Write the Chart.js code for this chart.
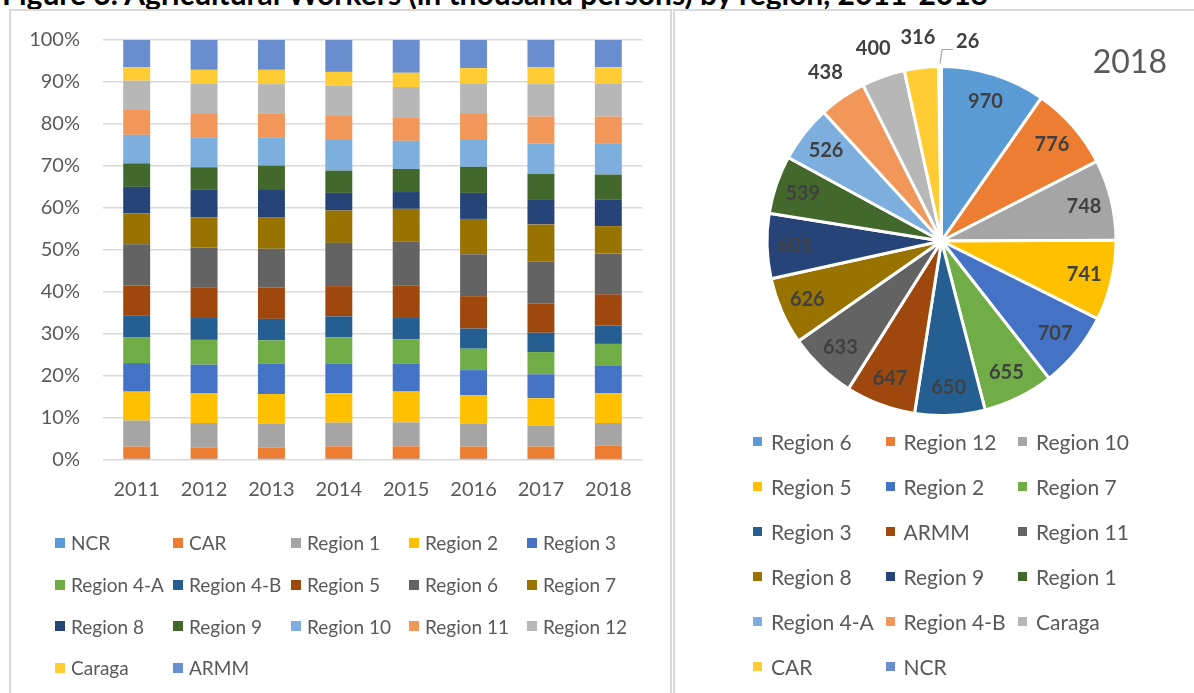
<!DOCTYPE html>
<html>
<head>
<meta charset="utf-8">
<script src="https://cdn.jsdelivr.net/npm/chart.js@4.4.0/dist/chart.umd.min.js"></script>
<style>
  body { margin: 0; width: 1194px; height: 693px; overflow: hidden; background: #fff; position: relative; font-family: Lato, sans-serif; }
  .figure-title { position: absolute; left: 2px; top: -25px; font: bold 30px/1.2 Lato, sans-serif; color: #000; white-space: nowrap; }
  .panel { position: absolute; top: 9px; border: 2px solid #d9d9d9; box-sizing: border-box; background: #fff; }
  #barPanel { left: 9px; width: 663px; height: 720px; }
  #piePanel { left: 673px; width: 600px; height: 720px; }
  canvas { position: absolute; }
  #barChart { left: 10px; top: 5px; }
  #pieChart { left: 674px; top: 10px; }
  .legend { position: absolute; display: grid; color: #595959; }
  .legend .item { display: flex; align-items: center; white-space: nowrap; }
  .legend .box { display: inline-block; flex: none; }
  #barLegend { left: 55px; top: 522px; grid-template-columns: repeat(5, 118px); grid-auto-rows: 41.7px; font-size: 19px; }
  #barLegend .box { width: 10px; height: 10px; margin-right: 6px; }
  #pieLegend { left: 753px; top: 419px; grid-template-columns: repeat(3, 132.5px); grid-auto-rows: 45px; font-size: 21px; }
  #pieLegend .box { width: 9px; height: 9px; margin-right: 9px; }
  .pie-title { position: absolute; left: 1060px; width: 107px; top: 42px; text-align: right; font: 32px/1.2 Lato, sans-serif; color: #595959; }
</style>
</head>
<body>
<div class="figure-title">Figure 3. Agricultural Workers (in thousand persons) by region, 2011-2018</div>
<div class="panel" id="barPanel"></div>
<div class="panel" id="piePanel"></div>
<canvas id="barChart" width="660" height="688"></canvas>
<canvas id="pieChart" width="520" height="683"></canvas>
<div class="legend" id="barLegend"></div>
<div class="legend" id="pieLegend"></div>
<div class="pie-title">2018</div>

<script>
const years = ["2011", "2012", "2013", "2014", "2015", "2016", "2017", "2018"];
const regions = ["NCR", "CAR", "Region 1", "Region 2", "Region 3", "Region 4-A", "Region 4-B", "Region 5",
  "Region 6", "Region 7", "Region 8", "Region 9", "Region 10", "Region 11", "Region 12", "Caraga", "ARMM"];

// share of agricultural workers per region (%), same order as regions
const share2011 = [0.3, 2.9, 6.2, 6.9, 6.8, 6.2, 5.2, 7.0, 9.9, 7.4, 6.3, 5.6, 6.8, 6.1, 6.8, 3.2, 6.5];
const share2012 = [0.3, 2.7, 5.8, 7.05, 6.85, 5.9, 5.2, 7.3, 9.5, 7.2, 6.5, 5.4, 7.0, 5.9, 7.1, 3.2, 7.1];
const share2013 = [0.3, 2.7, 5.6, 7.1, 7.2, 5.6, 5.1, 7.4, 9.3, 7.4, 6.8, 5.6, 6.6, 5.7, 7.1, 3.4, 7.1];
const share2014 = [0.3, 2.95, 5.65, 7.0, 7.1, 6.2, 5.0, 7.2, 10.3, 7.7, 4.2, 5.3, 7.3, 5.9, 7.0, 3.3, 7.6];
const share2015 = [0.3, 2.95, 5.7, 7.35, 6.7, 5.7, 5.1, 7.7, 10.5, 7.8, 4.0, 5.5, 6.7, 5.6, 7.2, 3.4, 7.8];
const share2016 = [0.3, 2.9, 5.4, 6.8, 6.0, 5.1, 4.8, 7.7, 10.0, 8.4, 6.2, 6.2, 6.6, 6.2, 7.1, 3.6, 6.7];
const share2017 = [0.3, 2.9, 5.0, 6.5, 5.7, 5.3, 4.6, 6.9, 10.0, 8.9, 6.0, 6.0, 7.2, 6.5, 7.7, 4.0, 6.5];

// 2018 workers in thousand persons, largest first (pie order)
const pieLabels = ["Region 6", "Region 12", "Region 10", "Region 5", "Region 2", "Region 7", "Region 3", "ARMM",
  "Region 11", "Region 8", "Region 9", "Region 1", "Region 4-A", "Region 4-B", "Caraga", "CAR", "NCR"];
const pieValues = [970, 776, 748, 741, 707, 655, 650, 647, 633, 626, 601, 539, 526, 438, 400, 316, 26];

const yTicks = [0, 10, 20, 30, 40, 50, 60, 70, 80, 90, 100];

const palette = ["#5B9BD5", "#ED7D31", "#A5A5A5", "#FFC000", "#4472C4", "#70AD47", "#255E91", "#9E480E",
  "#636363", "#997300", "#264478", "#43682B", "#7CAFDD", "#F1975A", "#B7B7B7", "#FFCD33", "#698ED0"];

const textColor = "#595959";

// 2018 column comes straight from the pie counts
const share2018 = regions.map(r => pieValues[pieLabels.indexOf(r)]);
const yearRows = [share2011, share2012, share2013, share2014, share2015, share2016, share2017, share2018];

// normalise each year to 100%
const percentRows = yearRows.map(row => {
  const total = row.reduce((a, b) => a + b, 0);
  return row.map(v => v / total * 100);
});

const barDatasets = regions.map((name, i) => ({
  label: name,
  data: percentRows.map(row => row[i]),
  backgroundColor: palette[i],
  borderWidth: 0,
  barPercentage: 0.4,
  categoryPercentage: 1.0
}));

const barChart = new Chart(document.getElementById("barChart"), {
  type: "bar",
  data: { labels: years, datasets: barDatasets },
  options: {
    responsive: false,
    animation: false,
    layout: { padding: { top: 30, right: 28, left: 0, bottom: 0 } },
    plugins: { legend: { display: false }, tooltip: { enabled: false } },
    scales: {
      x: {
        stacked: true,
        grid: { display: false, drawTicks: false },
        border: { display: false },
        ticks: { color: textColor, font: { family: "Lato", size: 20 }, padding: 18 },
        afterFit: s => { s.height = 233; }
      },
      y: {
        stacked: true,
        min: 0,
        max: 100,
        afterBuildTicks: s => { s.ticks = yTicks.map(v => ({ value: v })); },
        grid: { color: "#d9d9d9", lineWidth: 1.5, drawTicks: false },
        border: { display: false },
        ticks: { color: textColor, font: { family: "Lato", size: 20 }, padding: 23, callback: v => v + "%" },
        afterFit: s => { s.width = 93; }
      }
    }
  }
});

// value labels on the pie: inside for big slices, outside for small ones
const sliceLabels = {
  id: "sliceLabels",
  afterDatasetsDraw(chart) {
    const ctx = chart.ctx;
    const arcs = chart.getDatasetMeta(0).data;
    const values = chart.data.datasets[0].data;
    ctx.save();
    ctx.font = "bold 20px Lato";
    ctx.fillStyle = "#404040";
    ctx.textBaseline = "middle";
    arcs.forEach((arc, i) => {
      const { x, y, startAngle, endAngle, outerRadius } = arc.getProps(["x", "y", "startAngle", "endAngle", "outerRadius"], true);
      const mid = (startAngle + endAngle) / 2;
      const v = values[i];
      if (v >= 500) {
        const r = outerRadius * 0.84;
        ctx.textAlign = "center";
        ctx.fillText(v, x + Math.cos(mid) * r, y + Math.sin(mid) * r);
      } else if (i === arcs.length - 1) {
        // tiny last slice: label pulled to the right with a leader line
        const ex = x + Math.cos(mid) * (outerRadius + 3);
        const ey = y + Math.sin(mid) * (outerRadius + 3);
        ctx.strokeStyle = "#a6a6a6";
        ctx.lineWidth = 1.2;
        ctx.beginPath();
        ctx.moveTo(ex, ey);
        ctx.lineTo(ex + 2, ey - 14);
        ctx.lineTo(ex + 13, ey - 14);
        ctx.stroke();
        ctx.textAlign = "left";
        ctx.fillText(v, ex + 16, ey - 22);
      } else {
        const r = outerRadius + 30;
        ctx.textAlign = "center";
        ctx.fillText(v, x + Math.cos(mid) * r, y + Math.sin(mid) * r);
      }
    });
    ctx.restore();
  }
};

const pieChart = new Chart(document.getElementById("pieChart"), {
  type: "pie",
  data: {
    labels: pieLabels,
    datasets: [{ data: pieValues, backgroundColor: palette, borderColor: "#fff", borderWidth: 3 }]
  },
  options: {
    responsive: false,
    animation: false,
    layout: { padding: { left: 91.5, right: 76.5, top: 55, bottom: 276 } },
    plugins: { legend: { display: false }, tooltip: { enabled: false } }
  },
  plugins: [sliceLabels]
});

function buildLegend(el, labels, colors) {
  labels.forEach((name, i) => {
    const item = document.createElement("div");
    item.className = "item";
    const box = document.createElement("span");
    box.className = "box";
    box.style.background = colors[i];
    item.appendChild(box);
    item.appendChild(document.createTextNode(name));
    el.appendChild(item);
  });
}

buildLegend(document.getElementById("barLegend"),
  barChart.data.datasets.map(d => d.label), barChart.data.datasets.map(d => d.backgroundColor));
buildLegend(document.getElementById("pieLegend"),
  pieChart.data.labels, pieChart.data.datasets[0].backgroundColor);
</script>
</body>
</html>
